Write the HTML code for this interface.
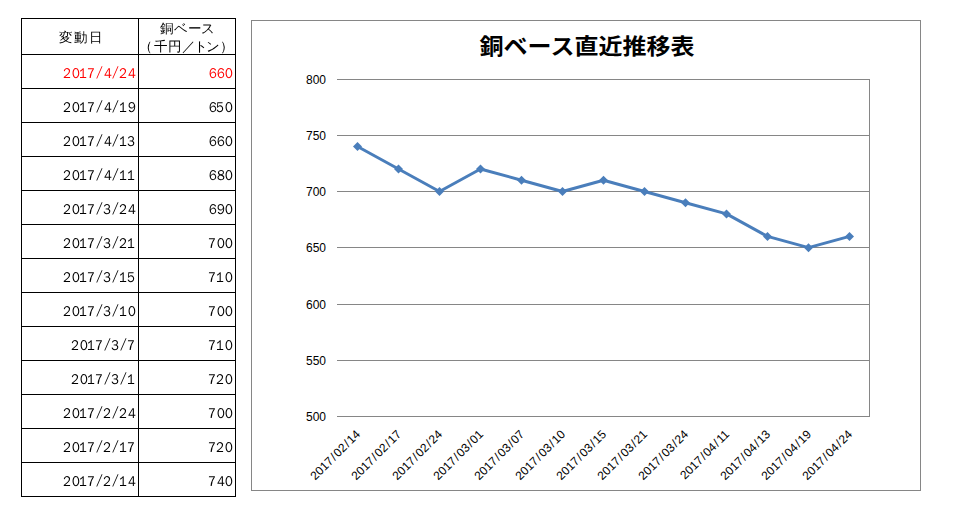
<!DOCTYPE html>
<html lang="ja"><head><meta charset="utf-8"><title>銅ベース直近推移表</title>
<style>
html,body{margin:0;padding:0;background:#fff;}
body{width:956px;height:515px;position:relative;overflow:hidden;}
.l{position:absolute;background:#000;}
svg text{font-family:"Liberation Sans",sans-serif;}
.hd{font-family:"WenQuanYi Zen Hei","Noto Sans CJK JP",sans-serif;font-size:13.5px;}
.dg{font-family:"WenQuanYi Zen Hei",sans-serif;font-size:13px;}
</style></head><body>

<div class="l" style="left:21px;top:18px;width:1px;height:479px"></div>
<div class="l" style="left:138px;top:18px;width:1px;height:479px"></div>
<div class="l" style="left:235px;top:18px;width:1px;height:479px"></div>
<div class="l" style="left:21px;top:18px;width:215px;height:1px"></div>
<div class="l" style="left:21px;top:54px;width:215px;height:1px"></div>
<div class="l" style="left:21px;top:88px;width:215px;height:1px"></div>
<div class="l" style="left:21px;top:122px;width:215px;height:1px"></div>
<div class="l" style="left:21px;top:156px;width:215px;height:1px"></div>
<div class="l" style="left:21px;top:190px;width:215px;height:1px"></div>
<div class="l" style="left:21px;top:224px;width:215px;height:1px"></div>
<div class="l" style="left:21px;top:258px;width:215px;height:1px"></div>
<div class="l" style="left:21px;top:292px;width:215px;height:1px"></div>
<div class="l" style="left:21px;top:326px;width:215px;height:1px"></div>
<div class="l" style="left:21px;top:360px;width:215px;height:1px"></div>
<div class="l" style="left:21px;top:394px;width:215px;height:1px"></div>
<div class="l" style="left:21px;top:428px;width:215px;height:1px"></div>
<div class="l" style="left:21px;top:462px;width:215px;height:1px"></div>
<div class="l" style="left:21px;top:496px;width:215px;height:1px"></div>
<svg style="position:absolute;left:0;top:0" width="250" height="515" viewBox="0 0 250 515">
<text class="hd" x="59 74 89" y="42">変動日</text>
<text class="hd" x="160 174 188 201" y="33">銅ベース</text>
<text class="hd" x="139 154 168 182 194 206 220" y="51">（千円／トン）</text>
<text class="dg" x="63 72 79 87 96 104 112 119 128" y="0" dy="0 0 0 0 -1.8 1.8 -1.8 1.8 0" transform="translate(0,78) scale(1,1.1)" fill="#f00">2017/4/24</text>
<text class="dg" x="209 217 225" y="0" transform="translate(0,78) scale(1,1.1)" fill="#f00">660</text>
<text class="dg" x="63 72 79 87 96 104 112 119 128" y="0" dy="0 0 0 0 -1.8 1.8 -1.8 1.8 0" transform="translate(0,112) scale(1,1.1)">2017/4/19</text>
<text class="dg" x="209 216 225" y="0" transform="translate(0,112) scale(1,1.1)">650</text>
<text class="dg" x="63 72 79 87 96 104 112 119 127" y="0" dy="0 0 0 0 -1.8 1.8 -1.8 1.8 0" transform="translate(0,146) scale(1,1.1)">2017/4/13</text>
<text class="dg" x="209 217 225" y="0" transform="translate(0,146) scale(1,1.1)">660</text>
<text class="dg" x="63 72 79 87 96 104 112 119 127" y="0" dy="0 0 0 0 -1.8 1.8 -1.8 1.8 0" transform="translate(0,180) scale(1,1.1)">2017/4/11</text>
<text class="dg" x="209 217 225" y="0" transform="translate(0,180) scale(1,1.1)">680</text>
<text class="dg" x="63 72 79 87 96 103 112 119 128" y="0" dy="0 0 0 0 -1.8 1.8 -1.8 1.8 0" transform="translate(0,214) scale(1,1.1)">2017/3/24</text>
<text class="dg" x="209 217 225" y="0" transform="translate(0,214) scale(1,1.1)">690</text>
<text class="dg" x="63 72 79 87 96 103 112 119 127" y="0" dy="0 0 0 0 -1.8 1.8 -1.8 1.8 0" transform="translate(0,248) scale(1,1.1)">2017/3/21</text>
<text class="dg" x="208 217 225" y="0" transform="translate(0,248) scale(1,1.1)">700</text>
<text class="dg" x="63 72 79 87 96 103 112 119 127" y="0" dy="0 0 0 0 -1.8 1.8 -1.8 1.8 0" transform="translate(0,282) scale(1,1.1)">2017/3/15</text>
<text class="dg" x="208 216 225" y="0" transform="translate(0,282) scale(1,1.1)">710</text>
<text class="dg" x="63 72 79 87 96 103 112 119 128" y="0" dy="0 0 0 0 -1.8 1.8 -1.8 1.8 0" transform="translate(0,316) scale(1,1.1)">2017/3/10</text>
<text class="dg" x="208 217 225" y="0" transform="translate(0,316) scale(1,1.1)">700</text>
<text class="dg" x="71 80 87 95 104 111 120 127" y="0" dy="0 0 0 0 -1.8 1.8 -1.8 1.8" transform="translate(0,350) scale(1,1.1)">2017/3/7</text>
<text class="dg" x="208 216 225" y="0" transform="translate(0,350) scale(1,1.1)">710</text>
<text class="dg" x="71 80 87 95 104 111 120 127" y="0" dy="0 0 0 0 -1.8 1.8 -1.8 1.8" transform="translate(0,384) scale(1,1.1)">2017/3/1</text>
<text class="dg" x="208 216 225" y="0" transform="translate(0,384) scale(1,1.1)">720</text>
<text class="dg" x="63 72 79 87 96 103 112 119 128" y="0" dy="0 0 0 0 -1.8 1.8 -1.8 1.8 0" transform="translate(0,418) scale(1,1.1)">2017/2/24</text>
<text class="dg" x="208 217 225" y="0" transform="translate(0,418) scale(1,1.1)">700</text>
<text class="dg" x="63 72 79 87 96 103 112 119 127" y="0" dy="0 0 0 0 -1.8 1.8 -1.8 1.8 0" transform="translate(0,452) scale(1,1.1)">2017/2/17</text>
<text class="dg" x="208 216 225" y="0" transform="translate(0,452) scale(1,1.1)">720</text>
<text class="dg" x="63 72 79 87 96 103 112 119 128" y="0" dy="0 0 0 0 -1.8 1.8 -1.8 1.8 0" transform="translate(0,486) scale(1,1.1)">2017/2/14</text>
<text class="dg" x="208 217 225" y="0" transform="translate(0,486) scale(1,1.1)">740</text>
</svg>
<div style="position:absolute;left:251px;top:20px;width:670px;height:471px;box-sizing:border-box;border:1px solid #868686;"></div>
<div style="position:absolute;left:252px;top:30px;width:670px;text-align:center;font:bold 24px/32px 'Noto Sans CJK JP',sans-serif;color:#000;transform:scaleY(0.917);transform-origin:50% 5px">銅ベース直近推移表</div>
<svg style="position:absolute;left:0;top:0" width="956" height="515" viewBox="0 0 956 515">
<line x1="337" y1="79.5" x2="870" y2="79.5" stroke="#868686" stroke-width="1"/>
<text x="326" y="83.5" text-anchor="end" font-size="12" fill="#000">800</text>
<line x1="337" y1="135.5" x2="870" y2="135.5" stroke="#868686" stroke-width="1"/>
<text x="326" y="139.5" text-anchor="end" font-size="12" fill="#000">750</text>
<line x1="337" y1="191.5" x2="870" y2="191.5" stroke="#868686" stroke-width="1"/>
<text x="326" y="195.5" text-anchor="end" font-size="12" fill="#000">700</text>
<line x1="337" y1="247.5" x2="870" y2="247.5" stroke="#868686" stroke-width="1"/>
<text x="326" y="251.5" text-anchor="end" font-size="12" fill="#000">650</text>
<line x1="337" y1="304.5" x2="870" y2="304.5" stroke="#868686" stroke-width="1"/>
<text x="326" y="308.5" text-anchor="end" font-size="12" fill="#000">600</text>
<line x1="337" y1="360.5" x2="870" y2="360.5" stroke="#868686" stroke-width="1"/>
<text x="326" y="364.5" text-anchor="end" font-size="12" fill="#000">550</text>
<line x1="337" y1="416.5" x2="870" y2="416.5" stroke="#868686" stroke-width="1"/>
<text x="326" y="420.5" text-anchor="end" font-size="12" fill="#000">500</text>
<line x1="869.5" y1="79" x2="869.5" y2="417" stroke="#868686" stroke-width="1"/>
<polyline fill="none" stroke="#4a7ebb" stroke-width="3" stroke-linejoin="round" points="357.50,146.50 398.50,168.97 439.50,191.45 480.50,168.97 521.50,180.21 562.50,191.45 603.50,180.21 644.50,191.45 685.50,202.69 726.50,213.92 767.50,236.40 808.50,247.63 849.50,236.40"/>
<path d="M357.50 142.00L362.00 146.50L357.50 151.00L353.00 146.50Z" fill="#4a7ebb"/>
<path d="M398.50 164.47L403.00 168.97L398.50 173.47L394.00 168.97Z" fill="#4a7ebb"/>
<path d="M439.50 186.95L444.00 191.45L439.50 195.95L435.00 191.45Z" fill="#4a7ebb"/>
<path d="M480.50 164.47L485.00 168.97L480.50 173.47L476.00 168.97Z" fill="#4a7ebb"/>
<path d="M521.50 175.71L526.00 180.21L521.50 184.71L517.00 180.21Z" fill="#4a7ebb"/>
<path d="M562.50 186.95L567.00 191.45L562.50 195.95L558.00 191.45Z" fill="#4a7ebb"/>
<path d="M603.50 175.71L608.00 180.21L603.50 184.71L599.00 180.21Z" fill="#4a7ebb"/>
<path d="M644.50 186.95L649.00 191.45L644.50 195.95L640.00 191.45Z" fill="#4a7ebb"/>
<path d="M685.50 198.19L690.00 202.69L685.50 207.19L681.00 202.69Z" fill="#4a7ebb"/>
<path d="M726.50 209.42L731.00 213.92L726.50 218.42L722.00 213.92Z" fill="#4a7ebb"/>
<path d="M767.50 231.90L772.00 236.40L767.50 240.90L763.00 236.40Z" fill="#4a7ebb"/>
<path d="M808.50 243.13L813.00 247.63L808.50 252.13L804.00 247.63Z" fill="#4a7ebb"/>
<path d="M849.50 231.90L854.00 236.40L849.50 240.90L845.00 236.40Z" fill="#4a7ebb"/>
<text transform="translate(361.00,435) rotate(-45)" text-anchor="end" font-size="12" letter-spacing="0" dx="0 0 0 0 1.1 1.1 0 1.1 1.1 0" fill="#000">2017/02/14</text>
<text transform="translate(402.00,435) rotate(-45)" text-anchor="end" font-size="12" letter-spacing="0" dx="0 0 0 0 1.1 1.1 0 1.1 1.1 0" fill="#000">2017/02/17</text>
<text transform="translate(443.00,435) rotate(-45)" text-anchor="end" font-size="12" letter-spacing="0" dx="0 0 0 0 1.1 1.1 0 1.1 1.1 0" fill="#000">2017/02/24</text>
<text transform="translate(484.00,435) rotate(-45)" text-anchor="end" font-size="12" letter-spacing="0" dx="0 0 0 0 1.1 1.1 0 1.1 1.1 0" fill="#000">2017/03/01</text>
<text transform="translate(525.00,435) rotate(-45)" text-anchor="end" font-size="12" letter-spacing="0" dx="0 0 0 0 1.1 1.1 0 1.1 1.1 0" fill="#000">2017/03/07</text>
<text transform="translate(566.00,435) rotate(-45)" text-anchor="end" font-size="12" letter-spacing="0" dx="0 0 0 0 1.1 1.1 0 1.1 1.1 0" fill="#000">2017/03/10</text>
<text transform="translate(607.00,435) rotate(-45)" text-anchor="end" font-size="12" letter-spacing="0" dx="0 0 0 0 1.1 1.1 0 1.1 1.1 0" fill="#000">2017/03/15</text>
<text transform="translate(648.00,435) rotate(-45)" text-anchor="end" font-size="12" letter-spacing="0" dx="0 0 0 0 1.1 1.1 0 1.1 1.1 0" fill="#000">2017/03/21</text>
<text transform="translate(689.00,435) rotate(-45)" text-anchor="end" font-size="12" letter-spacing="0" dx="0 0 0 0 1.1 1.1 0 1.1 1.1 0" fill="#000">2017/03/24</text>
<text transform="translate(730.00,435) rotate(-45)" text-anchor="end" font-size="12" letter-spacing="0" dx="0 0 0 0 1.1 1.1 0 1.1 1.1 0" fill="#000">2017/04/11</text>
<text transform="translate(771.00,435) rotate(-45)" text-anchor="end" font-size="12" letter-spacing="0" dx="0 0 0 0 1.1 1.1 0 1.1 1.1 0" fill="#000">2017/04/13</text>
<text transform="translate(812.00,435) rotate(-45)" text-anchor="end" font-size="12" letter-spacing="0" dx="0 0 0 0 1.1 1.1 0 1.1 1.1 0" fill="#000">2017/04/19</text>
<text transform="translate(853.00,435) rotate(-45)" text-anchor="end" font-size="12" letter-spacing="0" dx="0 0 0 0 1.1 1.1 0 1.1 1.1 0" fill="#000">2017/04/24</text>
</svg>
</body></html>
